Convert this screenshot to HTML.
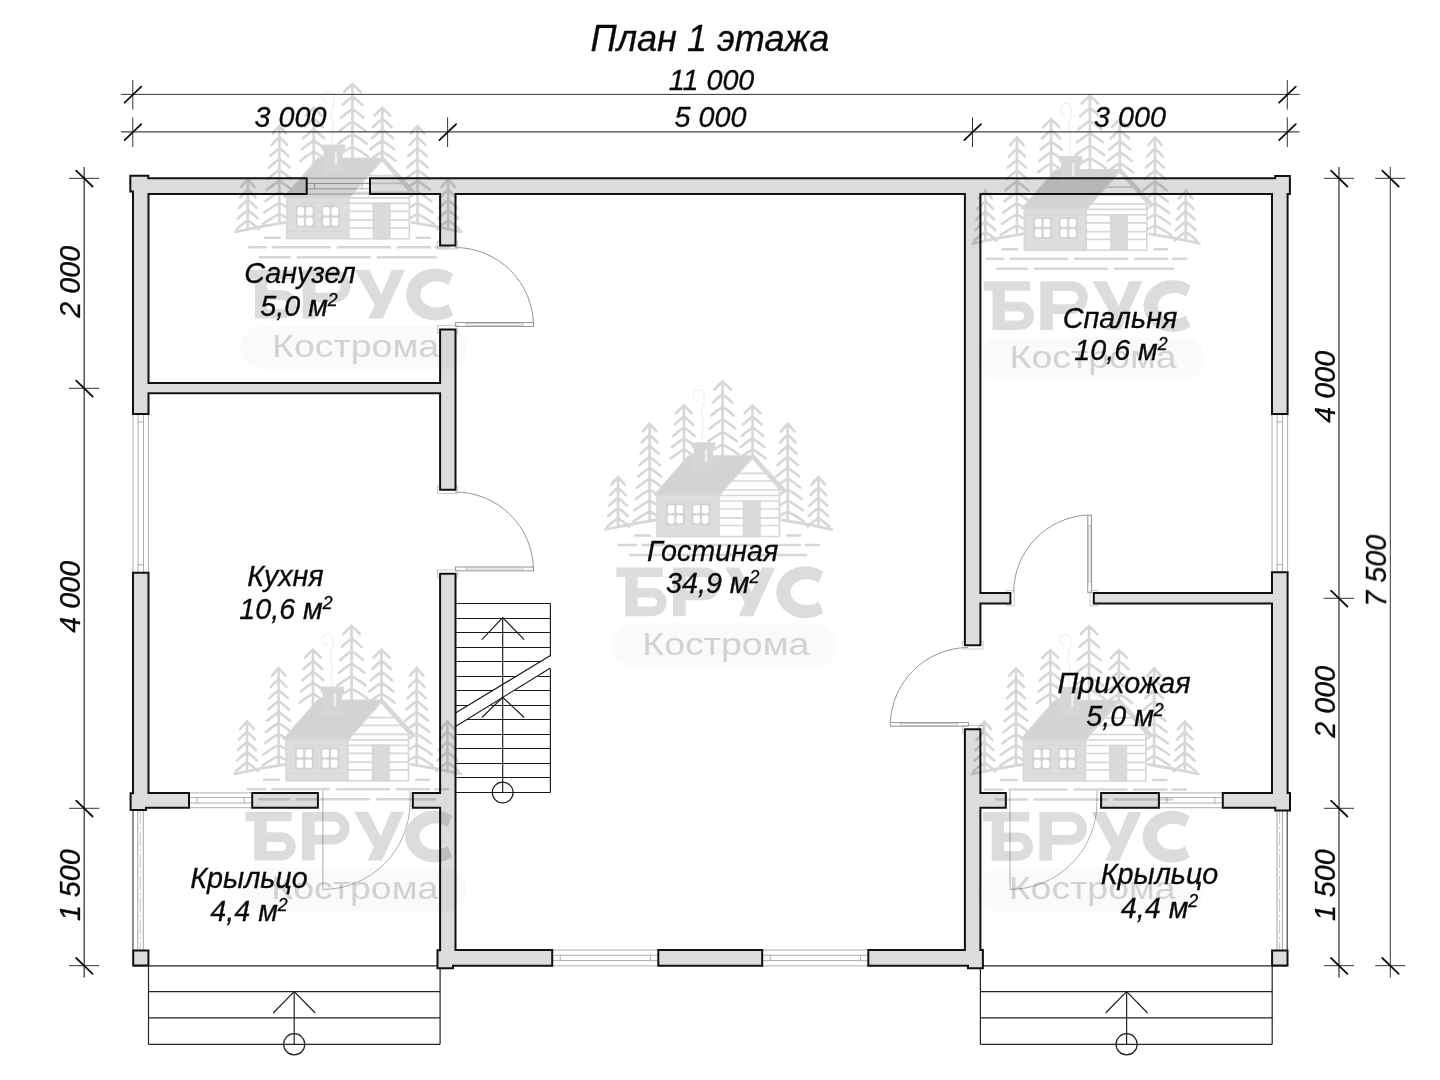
<!DOCTYPE html>
<html lang="ru"><head><meta charset="utf-8"><title>План 1 этажа</title>
<style>html,body{margin:0;padding:0;background:#fff;width:1440px;height:1080px;overflow:hidden}svg{display:block}.t text{font-family:"Liberation Sans",sans-serif;font-style:italic;fill:#0a0a0a;stroke:#0a0a0a;stroke-width:0.3px}</style></head><body>
<svg width="1440" height="1080" viewBox="0 0 1440 1080">
<defs><g id="wm">
<g fill="none" stroke="#d7d7d7" stroke-width="2.6" stroke-linecap="round">
<path d="M618.0 476.8V526.8M611.3 484.7Q615.0 480.0 618.0 477.3Q621.0 480.0 624.7 484.7M610.2 495.2Q614.5 490.3 618.0 487.5Q621.5 490.3 625.8 495.2M609.1 505.7Q614.0 500.6 618.0 497.7Q622.0 500.6 626.9 505.7M608.1 516.2Q613.5 510.9 618.0 507.9Q622.5 510.9 627.9 516.2M607.0 526.7Q613.0 521.2 618.0 518.1Q623.0 521.2 629.0 526.7"/>
<path d="M649.6 423.5V520.5M642.9 431.4Q646.6 426.7 649.6 424.0Q652.6 426.7 656.3 431.4M641.7 442.7Q646.0 437.7 649.6 434.9Q653.2 437.7 657.5 442.7M640.5 453.9Q645.5 448.8 649.6 445.9Q653.7 448.8 658.7 453.9M639.3 465.2Q645.0 459.8 649.6 456.8Q654.2 459.8 659.9 465.2M638.1 476.5Q644.4 470.9 649.6 467.8Q654.8 470.9 661.1 476.5M636.9 487.7Q643.9 481.9 649.6 478.7Q655.3 481.9 662.3 487.7M635.7 499.0Q643.3 493.0 649.6 489.6Q655.9 493.0 663.5 499.0M634.5 510.2Q642.8 504.0 649.6 500.6Q656.4 504.0 664.7 510.2M633.3 521.5Q642.3 515.1 649.6 511.5Q656.9 515.1 665.9 521.5"/>
<path d="M683.9 405.2V462.0M676.0 413.4Q680.3 408.5 683.9 405.7Q687.5 408.5 691.8 413.4M674.6 424.7Q679.7 419.5 683.9 416.6Q688.1 419.5 693.1 424.7M673.3 436.0Q679.1 430.5 683.9 427.5Q688.7 430.5 694.5 436.0M671.9 447.2Q678.5 441.6 683.9 438.4Q689.3 441.6 695.9 447.2M670.6 458.5Q677.9 452.6 683.9 449.3Q689.9 452.6 697.2 458.5"/>
<path d="M722.6 381.4V456.0M714.3 389.7Q718.9 384.7 722.6 381.9Q726.3 384.7 730.9 389.7M712.8 402.6Q718.2 397.3 722.6 394.4Q727.0 397.3 732.4 402.6M711.3 415.5Q717.5 410.0 722.6 406.9Q727.7 410.0 733.9 415.5M709.8 428.4Q716.8 422.6 722.6 419.3Q728.4 422.6 735.4 428.4M708.3 441.3Q716.2 435.2 722.6 431.8Q729.0 435.2 736.9 441.3M706.8 454.2Q715.5 447.9 722.6 444.3Q729.7 447.9 738.4 454.2"/>
<path d="M752.5 405.2V456.0M744.6 413.4Q748.9 408.5 752.5 405.7Q756.1 408.5 760.4 413.4M743.2 424.7Q748.3 419.5 752.5 416.6Q756.7 419.5 761.8 424.7M741.9 436.0Q747.7 430.5 752.5 427.5Q757.3 430.5 763.1 436.0M740.5 447.2Q747.1 441.6 752.5 438.4Q757.9 441.6 764.5 447.2M739.2 458.5Q746.5 452.6 752.5 449.3Q758.5 452.6 765.8 458.5"/>
<path d="M787.7 423.5V520.5M781.0 431.4Q784.7 426.7 787.7 424.0Q790.7 426.7 794.4 431.4M779.8 442.7Q784.1 437.7 787.7 434.9Q791.3 437.7 795.6 442.7M778.6 453.9Q783.6 448.8 787.7 445.9Q791.8 448.8 796.8 453.9M777.4 465.2Q783.1 459.8 787.7 456.8Q792.3 459.8 798.0 465.2M776.2 476.5Q782.5 470.9 787.7 467.8Q792.9 470.9 799.2 476.5M775.0 487.7Q782.0 481.9 787.7 478.7Q793.4 481.9 800.4 487.7M773.8 499.0Q781.4 493.0 787.7 489.6Q794.0 493.0 801.6 499.0M772.6 510.2Q780.9 504.0 787.7 500.6Q794.5 504.0 802.8 510.2M771.4 521.5Q780.4 515.1 787.7 511.5Q795.0 515.1 804.0 521.5"/>
<path d="M818.4 476.8V526.8M811.7 484.7Q815.4 480.0 818.4 477.3Q821.4 480.0 825.1 484.7M810.6 495.2Q814.9 490.3 818.4 487.5Q821.9 490.3 826.2 495.2M809.5 505.7Q814.4 500.6 818.4 497.7Q822.4 500.6 827.2 505.7M808.5 516.2Q813.9 510.9 818.4 507.9Q822.9 510.9 828.3 516.2M807.4 526.7Q813.4 521.2 818.4 518.1Q823.4 521.2 829.4 526.7"/>
<path d="M703 441C700 432 706 425 702 416C699 408 706 404 704 397A5.6 5.6 0 1 0 698.5 401" stroke="#f0f0f0" stroke-width="1.3"/>
<path d="M605.5 529.5Q630 524 656 520M782 520Q808 524 832 529.5" stroke-width="2.8"/>
<path d="M635 535.5H650M787 535.5H800M619 545H636M643 545H700M708 545H760M768 545H800M806 545H819M630 555H660M668 555H740M748 555H806" stroke-width="2.6"/>
</g>
<g stroke="#d7d7d7" stroke-width="1.6" stroke-linejoin="round">
<rect x="657" y="495" width="62" height="41.5" fill="#dddddd"/>
<path d="M719 536.5V495L752.3 458L779.5 489V536.5Z" fill="#fff"/>
<path d="M739 473.3H766M732 481H773M724 490H779M719 495.5H779M719 501H779M719 509H779M719 517.8H779M719 525.5H779" fill="none" stroke-width="1.7"/>
<path d="M657 501H719M657 529H719" fill="none" stroke-width="1.2"/>
<path d="M654.5 495L688.5 456H752.3L719.5 495Z" fill="#d3d3d3"/>
<path d="M752.3 456L783.5 490" fill="none" stroke-width="4.2" stroke-linecap="round"/>
<path d="M692.5 443H714.5V447.5H712.2V470H694.5V447.5H692.5Z" fill="#d6d6d6"/>
<path d="M706 449V462" stroke="#efefef" stroke-width="2.4" fill="none"/>
<rect x="743.5" y="501" width="16.5" height="35.5" fill="#dadada"/>
<rect x="665.9000000000001" y="503.2" width="18.8" height="22" rx="2.5" fill="#d2d2d2" stroke="none"/>
<rect x="667.7" y="505.0" width="6.6" height="8.2" rx="1.8" fill="#fff" stroke="none"/>
<rect x="676.3" y="505.0" width="6.6" height="8.2" rx="1.8" fill="#fff" stroke="none"/>
<rect x="667.7" y="515.2" width="6.6" height="8.2" rx="1.8" fill="#fff" stroke="none"/>
<rect x="676.3" y="515.2" width="6.6" height="8.2" rx="1.8" fill="#fff" stroke="none"/>
<rect x="691.5" y="503.2" width="18.8" height="22" rx="2.5" fill="#d2d2d2" stroke="none"/>
<rect x="693.3" y="505.0" width="6.6" height="8.2" rx="1.8" fill="#fff" stroke="none"/>
<rect x="701.9" y="505.0" width="6.6" height="8.2" rx="1.8" fill="#fff" stroke="none"/>
<rect x="693.3" y="515.2" width="6.6" height="8.2" rx="1.8" fill="#fff" stroke="none"/>
<rect x="701.9" y="515.2" width="6.6" height="8.2" rx="1.8" fill="#fff" stroke="none"/>
</g>
<g fill="#dcdcdc" stroke="none">
<path d="M616.4 567.5H662.7V577H637.6V616.2H625.2V577H616.4Z"/>
<rect x="673" y="567.5" width="12.6" height="48.7"/>
<path d="M725 567.5H739.3L751.6 592.3L761.8 567.5H775.3L753 616.2H738.6L744.9 602.8Z"/>
</g>
<g fill="none" stroke="#dcdcdc" stroke-linecap="butt" stroke-linejoin="round">
<path d="M636 592.8H652.6A9.3 9.3 0 0 1 652.6 611.4H636" stroke-width="9.6"/>
<path d="M684 572.4H704.2A11.5 11.5 0 0 1 704.2 595.4H684" stroke-width="9.8"/>
</g>
<path fill="#dcdcdc" d="M823.3 571.8L821.6 570.7L819.7 569.7L817.8 568.8L815.8 568.0L813.7 567.4L811.6 566.9L809.5 566.6L807.4 566.4L805.2 566.3L803.0 566.4L800.9 566.6L798.8 567.0L796.7 567.5L794.6 568.1L792.6 568.9L790.7 569.8L788.9 570.9L787.2 572.0L785.5 573.3L784.0 574.6L782.6 576.1L781.3 577.7L780.2 579.3L779.2 581.0L778.3 582.8L777.6 584.6L777.0 586.5L776.6 588.4L776.4 590.3L776.3 592.2L776.4 594.1L776.6 596.0L777.0 597.9L777.6 599.8L778.3 601.6L779.2 603.4L780.2 605.1L781.3 606.7L782.6 608.3L784.0 609.8L785.5 611.1L787.2 612.4L788.9 613.5L790.7 614.6L792.6 615.5L794.6 616.3L796.7 616.9L798.8 617.4L800.9 617.8L803.0 618.0L805.2 618.1L807.4 618.0L809.5 617.8L811.6 617.5L813.7 617.0L815.8 616.4L817.8 615.6L819.7 614.7L821.6 613.7L823.3 612.6L818.6 601.6L817.7 602.2L816.6 602.8L815.6 603.4L814.4 603.9L813.2 604.3L812.0 604.6L810.8 604.9L809.5 605.1L808.2 605.2L806.9 605.2L805.6 605.1L804.3 605.0L803.1 604.8L801.8 604.5L800.6 604.2L799.4 603.7L798.3 603.2L797.2 602.7L796.2 602.0L795.3 601.3L794.4 600.6L793.6 599.8L792.9 598.9L792.3 598.1L791.7 597.1L791.3 596.2L791.0 595.2L790.7 594.2L790.6 593.2L790.5 592.2L790.6 591.2L790.7 590.2L791.0 589.2L791.3 588.2L791.7 587.3L792.3 586.3L792.9 585.5L793.6 584.6L794.4 583.8L795.3 583.1L796.2 582.4L797.2 581.7L798.3 581.2L799.4 580.7L800.6 580.2L801.8 579.9L803.1 579.6L804.3 579.4L805.6 579.3L806.9 579.2L808.2 579.2L809.5 579.3L810.8 579.5L812.0 579.8L813.2 580.1L814.4 580.5L815.6 581.0L816.6 581.6L817.7 582.2L818.6 582.8Z"/>
<rect x="610.8" y="623.8" width="226.5" height="43.2" rx="21.6" fill="#fafafa"/>
<text x="725.8" y="654.5" text-anchor="middle" font-family="Liberation Sans, sans-serif" font-style="normal" font-size="30.5" fill="#d2d2d2" textLength="167" lengthAdjust="spacingAndGlyphs">Кострома</text>
</g></defs>
<rect width="1440" height="1080" fill="#fff"/>
<g fill="none" stroke="#9a9a9a" stroke-width="0.8">
<line x1="306.70" y1="178.30" x2="370.00" y2="178.30" />
<line x1="306.70" y1="194.00" x2="370.00" y2="194.00" />
<rect x="314.70" y="183.45" width="47.30" height="5.40" />
<line x1="306.70" y1="183.45" x2="314.70" y2="183.45" />
<line x1="362.00" y1="183.45" x2="370.00" y2="183.45" />
<line x1="306.70" y1="188.85" x2="314.70" y2="188.85" />
<line x1="362.00" y1="188.85" x2="370.00" y2="188.85" />
<line x1="189.00" y1="792.90" x2="252.20" y2="792.90" />
<line x1="189.00" y1="807.70" x2="252.20" y2="807.70" />
<rect x="197.00" y="797.60" width="47.20" height="5.40" />
<line x1="189.00" y1="797.60" x2="197.00" y2="797.60" />
<line x1="244.20" y1="797.60" x2="252.20" y2="797.60" />
<line x1="189.00" y1="803.00" x2="197.00" y2="803.00" />
<line x1="244.20" y1="803.00" x2="252.20" y2="803.00" />
<line x1="1158.90" y1="792.90" x2="1222.80" y2="792.90" />
<line x1="1158.90" y1="807.70" x2="1222.80" y2="807.70" />
<rect x="1166.90" y="797.60" width="47.90" height="5.40" />
<line x1="1158.90" y1="797.60" x2="1166.90" y2="797.60" />
<line x1="1214.80" y1="797.60" x2="1222.80" y2="797.60" />
<line x1="1158.90" y1="803.00" x2="1166.90" y2="803.00" />
<line x1="1214.80" y1="803.00" x2="1222.80" y2="803.00" />
<line x1="552.20" y1="950.10" x2="658.30" y2="950.10" />
<line x1="552.20" y1="965.80" x2="658.30" y2="965.80" />
<rect x="560.20" y="955.25" width="90.10" height="5.40" />
<line x1="552.20" y1="955.25" x2="560.20" y2="955.25" />
<line x1="650.30" y1="955.25" x2="658.30" y2="955.25" />
<line x1="552.20" y1="960.65" x2="560.20" y2="960.65" />
<line x1="650.30" y1="960.65" x2="658.30" y2="960.65" />
<line x1="762.20" y1="950.10" x2="868.30" y2="950.10" />
<line x1="762.20" y1="965.80" x2="868.30" y2="965.80" />
<rect x="770.20" y="955.25" width="90.10" height="5.40" />
<line x1="762.20" y1="955.25" x2="770.20" y2="955.25" />
<line x1="860.30" y1="955.25" x2="868.30" y2="955.25" />
<line x1="762.20" y1="960.65" x2="770.20" y2="960.65" />
<line x1="860.30" y1="960.65" x2="868.30" y2="960.65" />
<line x1="133.00" y1="414.00" x2="133.00" y2="572.80" />
<line x1="148.50" y1="414.00" x2="148.50" y2="572.80" />
<rect x="138.05" y="422.00" width="5.40" height="142.80" />
<line x1="138.05" y1="414.00" x2="138.05" y2="422.00" />
<line x1="138.05" y1="564.80" x2="138.05" y2="572.80" />
<line x1="143.45" y1="414.00" x2="143.45" y2="422.00" />
<line x1="143.45" y1="564.80" x2="143.45" y2="572.80" />
<line x1="1272.00" y1="414.00" x2="1272.00" y2="572.30" />
<line x1="1287.60" y1="414.00" x2="1287.60" y2="572.30" />
<rect x="1277.10" y="422.00" width="5.40" height="142.30" />
<line x1="1277.10" y1="414.00" x2="1277.10" y2="422.00" />
<line x1="1277.10" y1="564.30" x2="1277.10" y2="572.30" />
<line x1="1282.50" y1="414.00" x2="1282.50" y2="422.00" />
<line x1="1282.50" y1="564.30" x2="1282.50" y2="572.30" />
</g>
<g fill="none" stroke-width="0.9">
<line x1="133.00" y1="810.00" x2="133.00" y2="951.00" stroke="#333" stroke-width="1.1"/>
<line x1="137.80" y1="810.00" x2="137.80" y2="951.00" stroke="#999"/>
<line x1="140.40" y1="810.00" x2="140.40" y2="951.00" stroke="#bdbdbd" stroke-dasharray="14 3 2 3"/>
<line x1="143.30" y1="810.00" x2="143.30" y2="951.00" stroke="#999"/>
<line x1="1287.20" y1="810.00" x2="1287.20" y2="951.00" stroke="#333" stroke-width="1.1"/>
<line x1="1282.40" y1="810.00" x2="1282.40" y2="951.00" stroke="#999"/>
<line x1="1279.60" y1="810.00" x2="1279.60" y2="951.00" stroke="#bdbdbd" stroke-dasharray="14 3 2 3"/>
<line x1="1277.00" y1="810.00" x2="1277.00" y2="951.00" stroke="#999"/>
</g>
<g fill="none" stroke="#8a8a8a" stroke-width="0.9">
<path d="M455 247.5A78.5 78.5 0 0 1 533.5 326"/>
<rect x="455.50" y="322.60" width="78.00" height="3.80" />
<rect x="466.50" y="323.60" width="56.50" height="2.00" stroke="#aaa" stroke-width="0.6"/>
<rect x="437.40" y="241.50" width="20.40" height="7.50" stroke="#b5b5b5" stroke-width="0.7"/>
<rect x="437.40" y="325.60" width="20.40" height="7.40" stroke="#b5b5b5" stroke-width="0.7"/>
<path d="M455 492A78.5 78.5 0 0 1 533.5 570.5"/>
<rect x="455.50" y="567.00" width="78.00" height="3.80" />
<rect x="466.50" y="568.00" width="56.50" height="2.00" stroke="#aaa" stroke-width="0.6"/>
<rect x="437.40" y="486.00" width="20.40" height="7.50" stroke="#b5b5b5" stroke-width="0.7"/>
<rect x="437.40" y="570.00" width="20.40" height="7.50" stroke="#b5b5b5" stroke-width="0.7"/>
<path d="M1087.8 515A78 78 0 0 0 1013.6 592.6"/>
<rect x="1087.80" y="515.20" width="3.80" height="77.60" />
<rect x="1088.80" y="525.50" width="2.00" height="56.50" stroke="#aaa" stroke-width="0.6"/>
<rect x="1006.80" y="590.60" width="7.40" height="15.20" stroke="#b5b5b5" stroke-width="0.7"/>
<rect x="1090.00" y="590.60" width="7.40" height="15.20" stroke="#b5b5b5" stroke-width="0.7"/>
<path d="M968 647.5A78.5 78.5 0 0 0 890.3 722.6"/>
<rect x="890.30" y="722.60" width="78.10" height="3.60" />
<rect x="900.50" y="723.50" width="57.00" height="1.90" stroke="#aaa" stroke-width="0.6"/>
<rect x="962.40" y="641.60" width="20.60" height="7.40" stroke="#b5b5b5" stroke-width="0.7"/>
<rect x="962.40" y="725.60" width="20.60" height="7.40" stroke="#b5b5b5" stroke-width="0.7"/>
<path d="M322.8 791V889.4A87.2 87.2 0 0 0 410 802.2V791" stroke="#a8a8a8"/>
<path d="M1010 791V889.4A86.9 86.9 0 0 0 1096.9 802.5V791" stroke="#a8a8a8"/>
</g>
<g fill="none" stroke="#1a1a1a" stroke-width="1.15">
<line x1="455.50" y1="603.50" x2="550.40" y2="603.50" />
<line x1="455.50" y1="618.50" x2="550.40" y2="618.50" />
<line x1="455.50" y1="632.50" x2="550.40" y2="632.50" />
<line x1="455.50" y1="647.50" x2="550.40" y2="647.50" />
<line x1="455.50" y1="661.50" x2="550.40" y2="661.50" />
<line x1="455.50" y1="676.50" x2="550.40" y2="676.50" />
<line x1="455.50" y1="690.50" x2="550.40" y2="690.50" />
<line x1="455.50" y1="705.50" x2="550.40" y2="705.50" />
<line x1="455.50" y1="719.50" x2="550.40" y2="719.50" />
<line x1="455.50" y1="734.50" x2="550.40" y2="734.50" />
<line x1="455.50" y1="748.50" x2="550.40" y2="748.50" />
<line x1="455.50" y1="763.50" x2="550.40" y2="763.50" />
<line x1="455.50" y1="777.50" x2="550.40" y2="777.50" />
<line x1="455.50" y1="792.50" x2="550.40" y2="792.50" />
<line x1="550.40" y1="603.50" x2="550.40" y2="792.50" />
<path d="M455.5 713L551.9 655.6V668L455.5 726.5Z" fill="#fff" stroke="none"/>
<line x1="455.50" y1="713.00" x2="550.40" y2="655.60" />
<line x1="455.50" y1="726.50" x2="550.40" y2="668.00" />
<line x1="502.70" y1="617.70" x2="502.70" y2="792.50" />
<path d="M481.9 639.6L502.7 617.7L524.2 639.6"/>
<path d="M481.9 717.5L502.7 697.3L524.2 717.5"/>
<circle cx="502.7" cy="792.5" r="10.4"/>
</g>
<g fill="none" stroke="#222" stroke-width="1.2">
<line x1="133.00" y1="965.80" x2="440.10" y2="965.80" />
<line x1="148.50" y1="991.70" x2="440.10" y2="991.70" />
<line x1="148.50" y1="1017.90" x2="440.10" y2="1017.90" />
<line x1="148.50" y1="1044.30" x2="440.10" y2="1044.30" />
<line x1="148.50" y1="965.80" x2="148.50" y2="1044.30" />
<line x1="440.10" y1="965.80" x2="440.10" y2="1044.30" />
<line x1="294.20" y1="991.70" x2="294.20" y2="1044.30" />
<path d="M273.2 1013L294.2 991.7L315.2 1013"/>
<circle cx="294.2" cy="1044.3" r="10.6"/>
<line x1="968.40" y1="965.80" x2="1287.20" y2="965.80" />
<line x1="980.40" y1="991.70" x2="1272.20" y2="991.70" />
<line x1="980.40" y1="1017.90" x2="1272.20" y2="1017.90" />
<line x1="980.40" y1="1044.30" x2="1272.20" y2="1044.30" />
<line x1="980.40" y1="965.80" x2="980.40" y2="1044.30" />
<line x1="1272.20" y1="965.80" x2="1272.20" y2="1044.30" />
<line x1="1126.60" y1="991.70" x2="1126.60" y2="1044.30" />
<path d="M1105.6 1013L1126.6 991.7L1147.6 1013"/>
<circle cx="1126.6" cy="1044.3" r="10.6"/>
</g>
<path d="M133.00 191.50L133.00 194.00L133.00 383.10L133.00 393.30L133.00 414.00L148.50 414.00L148.50 393.30L440.10 393.30L440.10 489.80L455.50 489.80L455.50 393.30L455.50 383.10L455.50 329.40L440.10 329.40L440.10 383.10L148.50 383.10L148.50 194.00L306.70 194.00L306.70 178.30L148.50 178.30L148.30 178.30L148.30 175.80L130.30 175.80L130.30 191.50ZM440.10 178.30L370.00 178.30L370.00 194.00L440.10 194.00L440.10 245.60L455.50 245.60L455.50 194.00L964.90 194.00L964.90 593.00L964.90 603.40L964.90 645.30L980.40 645.30L980.40 603.40L1010.40 603.40L1010.40 593.00L980.40 593.00L980.40 194.00L1272.00 194.00L1272.00 414.00L1287.60 414.00L1287.60 194.00L1289.90 194.00L1289.90 176.00L1275.20 176.00L1275.20 178.30L1272.00 178.30L980.40 178.30L964.90 178.30L455.50 178.30ZM133.00 572.80L133.00 792.90L133.00 793.20L130.60 793.20L130.60 810.00L146.00 810.00L146.00 807.70L148.50 807.70L189.00 807.70L189.00 792.90L148.50 792.90L148.50 572.80ZM440.10 807.70L440.10 950.10L440.10 950.30L437.50 950.30L437.50 968.20L453.00 968.20L453.00 965.80L455.50 965.80L552.20 965.80L552.20 950.10L455.50 950.10L455.50 807.70L455.50 792.90L455.50 573.80L440.10 573.80L440.10 792.90L412.80 792.90L412.80 807.70ZM252.20 792.90L252.20 807.70L317.90 807.70L317.90 792.90ZM658.30 950.10L658.30 965.80L762.20 965.80L762.20 950.10ZM133.20 950.40L133.20 965.60L148.40 965.60L148.40 950.40ZM1093.80 593.00L1093.80 603.40L1272.00 603.40L1272.00 792.90L1222.80 792.90L1222.80 807.70L1272.00 807.70L1275.20 807.70L1275.20 810.60L1290.00 810.60L1290.00 793.00L1287.60 793.00L1287.60 792.90L1287.60 603.40L1287.60 593.00L1287.60 572.30L1272.00 572.30L1272.00 593.00ZM980.40 792.90L980.40 729.30L964.90 729.30L964.90 792.90L964.90 807.70L964.90 950.10L868.30 950.10L868.30 965.80L964.90 965.80L968.00 965.80L968.00 968.30L982.90 968.30L982.90 950.10L980.40 950.10L980.40 807.70L1005.80 807.70L1005.80 792.90ZM1101.10 792.90L1101.10 807.70L1158.90 807.70L1158.90 792.90ZM1272.10 950.40L1272.10 965.60L1287.50 965.60L1287.50 950.40Z" fill="#dcdcdc" stroke="#111" stroke-width="2.0" stroke-linejoin="miter" fill-rule="evenodd"/>
<g fill="none" stroke="#2a2a2a" stroke-width="0.95">
<line x1="121.00" y1="94.40" x2="1299.50" y2="94.40" />
<line x1="121.00" y1="131.80" x2="1299.50" y2="131.80" stroke-width="1.35" stroke="#444"/>
<line x1="132.80" y1="80.00" x2="132.80" y2="109.60" />
<line x1="124.60" y1="102.70" x2="141.30" y2="86.70" stroke-width="1.8" stroke="#111" stroke-linecap="round"/>
<line x1="1287.30" y1="80.00" x2="1287.30" y2="109.60" />
<line x1="1279.10" y1="102.70" x2="1295.80" y2="86.70" stroke-width="1.8" stroke="#111" stroke-linecap="round"/>
<line x1="132.80" y1="117.40" x2="132.80" y2="147.00" />
<line x1="124.60" y1="140.10" x2="141.30" y2="124.10" stroke-width="1.8" stroke="#111" stroke-linecap="round"/>
<line x1="447.60" y1="117.40" x2="447.60" y2="147.00" />
<line x1="439.40" y1="140.10" x2="456.10" y2="124.10" stroke-width="1.8" stroke="#111" stroke-linecap="round"/>
<line x1="972.50" y1="117.40" x2="972.50" y2="147.00" />
<line x1="964.30" y1="140.10" x2="981.00" y2="124.10" stroke-width="1.8" stroke="#111" stroke-linecap="round"/>
<line x1="1287.30" y1="117.40" x2="1287.30" y2="147.00" />
<line x1="1279.10" y1="140.10" x2="1295.80" y2="124.10" stroke-width="1.8" stroke="#111" stroke-linecap="round"/>
<line x1="84.20" y1="167.00" x2="84.20" y2="977.50" stroke-width="1.35" stroke="#444"/>
<line x1="69.00" y1="178.30" x2="99.20" y2="178.30" />
<line x1="76.20" y1="170.60" x2="92.60" y2="186.50" stroke-width="1.8" stroke="#111" stroke-linecap="round"/>
<line x1="69.00" y1="388.30" x2="99.20" y2="388.30" />
<line x1="76.20" y1="380.60" x2="92.60" y2="396.50" stroke-width="1.8" stroke="#111" stroke-linecap="round"/>
<line x1="69.00" y1="808.30" x2="99.20" y2="808.30" />
<line x1="76.20" y1="800.60" x2="92.60" y2="816.50" stroke-width="1.8" stroke="#111" stroke-linecap="round"/>
<line x1="69.00" y1="965.70" x2="99.20" y2="965.70" />
<line x1="76.20" y1="958.00" x2="92.60" y2="973.90" stroke-width="1.8" stroke="#111" stroke-linecap="round"/>
<line x1="1339.00" y1="167.00" x2="1339.00" y2="977.50" stroke-width="1.35" stroke="#444"/>
<line x1="1390.30" y1="167.00" x2="1390.30" y2="977.50" />
<line x1="1323.80" y1="178.30" x2="1354.00" y2="178.30" />
<line x1="1331.00" y1="170.60" x2="1347.40" y2="186.50" stroke-width="1.8" stroke="#111" stroke-linecap="round"/>
<line x1="1323.80" y1="598.30" x2="1354.00" y2="598.30" />
<line x1="1331.00" y1="590.60" x2="1347.40" y2="606.50" stroke-width="1.8" stroke="#111" stroke-linecap="round"/>
<line x1="1323.80" y1="808.30" x2="1354.00" y2="808.30" />
<line x1="1331.00" y1="800.60" x2="1347.40" y2="816.50" stroke-width="1.8" stroke="#111" stroke-linecap="round"/>
<line x1="1323.80" y1="965.70" x2="1354.00" y2="965.70" />
<line x1="1331.00" y1="958.00" x2="1347.40" y2="973.90" stroke-width="1.8" stroke="#111" stroke-linecap="round"/>
<line x1="1375.10" y1="178.30" x2="1405.30" y2="178.30" />
<line x1="1382.30" y1="170.60" x2="1398.70" y2="186.50" stroke-width="1.8" stroke="#111" stroke-linecap="round"/>
<line x1="1375.10" y1="965.70" x2="1405.30" y2="965.70" />
<line x1="1382.30" y1="958.00" x2="1398.70" y2="973.90" stroke-width="1.8" stroke="#111" stroke-linecap="round"/>
</g>
<g class="t" opacity="0.999">
<text x="710" y="51" font-size="36.1" text-anchor="middle" >План 1 этажа</text>
<text x="711.5" y="90" font-size="28.7" text-anchor="middle" >11 000</text>
<text x="290.5" y="127" font-size="28.7" text-anchor="middle" >3 000</text>
<text x="710.5" y="127" font-size="28.7" text-anchor="middle" >5 000</text>
<text x="1130" y="127" font-size="28.7" text-anchor="middle" >3 000</text>
<text transform="translate(80.2 281.8) rotate(-90)" font-size="28.7" text-anchor="middle">2 000</text>
<text transform="translate(80.2 596.8) rotate(-90)" font-size="28.7" text-anchor="middle">4 000</text>
<text transform="translate(80.2 885.2) rotate(-90)" font-size="28.7" text-anchor="middle">1 500</text>
<text transform="translate(1335 386.8) rotate(-90)" font-size="28.7" text-anchor="middle">4 000</text>
<text transform="translate(1335 701.8) rotate(-90)" font-size="28.7" text-anchor="middle">2 000</text>
<text transform="translate(1335 885.2) rotate(-90)" font-size="28.7" text-anchor="middle">1 500</text>
<text transform="translate(1386 570.7) rotate(-90)" font-size="28.7" text-anchor="middle">7 500</text>
<text x="300" y="283" font-size="28.7" text-anchor="middle" >Санузел</text>
<text x="299" y="316" font-size="28.7" text-anchor="middle">5,0 м<tspan font-size="17.8" dy="-10.3">2</tspan></text>
<text x="285.5" y="586" font-size="28.7" text-anchor="middle" >Кухня</text>
<text x="286" y="618.8" font-size="28.7" text-anchor="middle">10,6 м<tspan font-size="17.8" dy="-10.3">2</tspan></text>
<text x="249" y="888" font-size="28.7" text-anchor="middle" >Крыльцо</text>
<text x="249" y="921" font-size="28.7" text-anchor="middle">4,4 м<tspan font-size="17.8" dy="-10.3">2</tspan></text>
<text x="712.7" y="560.6" font-size="28.7" text-anchor="middle" >Гостиная</text>
<text x="712.7" y="593" font-size="28.7" text-anchor="middle">34,9 м<tspan font-size="17.8" dy="-10.3">2</tspan></text>
<text x="1120" y="328" font-size="28.7" text-anchor="middle" >Спальня</text>
<text x="1121" y="360" font-size="28.7" text-anchor="middle">10,6 м<tspan font-size="17.8" dy="-10.3">2</tspan></text>
<text x="1124" y="693" font-size="28.7" text-anchor="middle" >Прихожая</text>
<text x="1125" y="726" font-size="28.7" text-anchor="middle">5,0 м<tspan font-size="17.8" dy="-10.3">2</tspan></text>
<text x="1159.5" y="883.8" font-size="28.7" text-anchor="middle" >Крыльцо</text>
<text x="1159.5" y="917.5" font-size="28.7" text-anchor="middle">4,4 м<tspan font-size="17.8" dy="-10.3">2</tspan></text>
</g>
<g style="mix-blend-mode:multiply">
<use href="#wm" transform="translate(0 0)"/>
<use href="#wm" transform="translate(-370.2 -297.7)"/>
<use href="#wm" transform="translate(367.3 -286.2)"/>
<use href="#wm" transform="translate(-371.0 244.3)"/>
<use href="#wm" transform="translate(366.4 244.5)"/>
</g>
</svg></body></html>
